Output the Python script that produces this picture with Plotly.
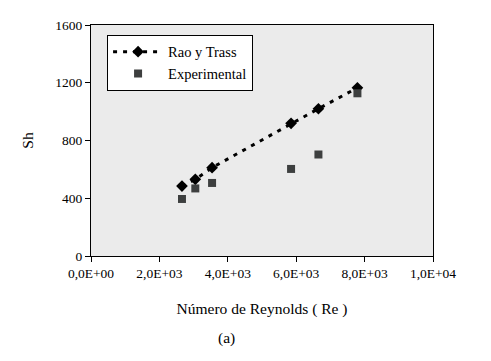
import plotly.graph_objects as go

re_vals = [2660, 3050, 3540, 5850, 6650, 7790]
sh_rao = [484, 531, 612, 919, 1020, 1165]
sh_exp = [395, 468, 506, 603, 703, 1127]
x_ticks = [0, 2000, 4000, 6000, 8000, 10000]
x_ticklabels = ["0,0E+00", "2,0E+03", "4,0E+03", "6,0E+03", "8,0E+03", "1,0E+04"]
y_ticks = [0, 400, 800, 1200, 1600]

font = "Liberation Serif, Times New Roman, serif"

fig = go.Figure()
fig.add_trace(go.Scatter(
    x=re_vals, y=sh_rao, mode="lines+markers", name="Rao y Trass",
    line=dict(color="black", width=3, dash="4px,6px"),
    marker=dict(symbol="diamond", size=9, color="black"),
))
fig.add_trace(go.Scatter(
    x=re_vals, y=sh_exp, mode="markers", name="Experimental",
    marker=dict(symbol="square", size=8, color="#3d3f3f"),
))

fig.update_layout(
    width=483, height=353,
    margin=dict(l=83, r=58, t=10, b=105),
    paper_bgcolor="white", plot_bgcolor="#ebebeb",
    font=dict(family=font, color="black", size=13),
    showlegend=True,
    legend=dict(x=0.047, y=0.958, xanchor="left", yanchor="top",
                bgcolor="white", bordercolor="black", borderwidth=1,
                font=dict(family=font, size=14.5), tracegroupgap=0, itemwidth=50),
    xaxis=dict(range=[0, 10000], tickvals=x_ticks, ticktext=x_ticklabels,
               showgrid=False, zeroline=False, showline=True, linecolor="black",
               linewidth=1, mirror=True, ticks="outside", ticklen=5,
               tickcolor="black", tickfont=dict(size=13.5),
               title=dict(text="Número de Reynolds ( Re )", font=dict(size=15.5), standoff=22)),
    yaxis=dict(range=[0, 1600], tickvals=y_ticks, showgrid=False, zeroline=False,
               showline=True, linecolor="black", linewidth=1, mirror=True,
               ticks="outside", ticklen=5, tickcolor="black", tickfont=dict(size=13.5),
               title=dict(text="Sh", font=dict(size=15.5), standoff=17)),
    annotations=[dict(text="(a)", x=0.395, y=-0.353, xref="paper", yref="paper",
                      xanchor="center", yanchor="middle",
                      showarrow=False, font=dict(family=font, size=15.5))],
)

fig.write_html("out.html")
